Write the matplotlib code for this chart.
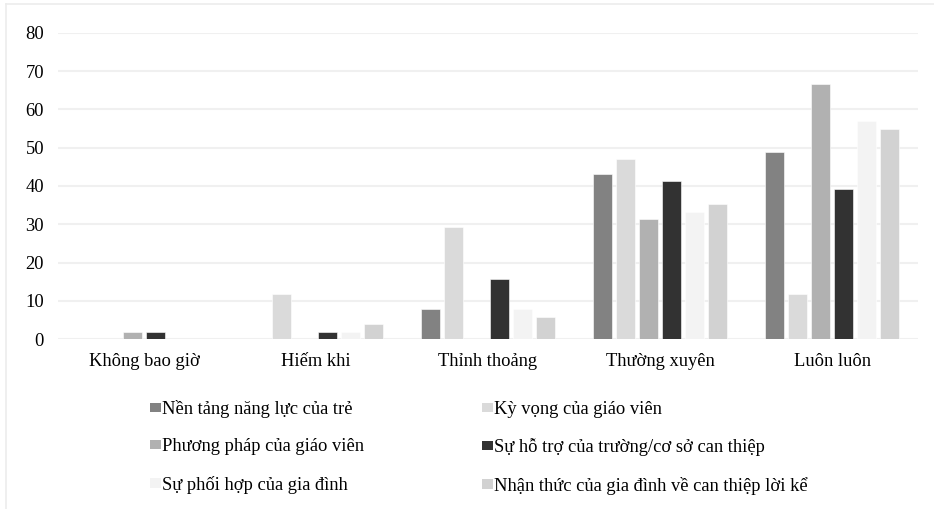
import matplotlib
matplotlib.use("Agg")
import matplotlib.pyplot as plt
from matplotlib.patches import Patch
from matplotlib.lines import Line2D
import numpy as np

plt.rcParams['font.family'] = ['Liberation Serif', 'DejaVu Serif']

categories = ["Không bao giờ", "Hiếm khi", "Thỉnh thoảng", "Thường xuyên", "Luôn luôn"]
series_names = [
    "Nền tảng năng lực của trẻ",
    "Kỳ vọng của giáo viên",
    "Phương pháp của giáo viên",
    "Sự hỗ trợ của trường/cơ sở can thiệp",
    "Sự phối hợp của gia đình",
    "Nhận thức của gia đình về can thiệp lời kể",
]
nen_tang = [0, 0, 7.8, 43.1, 49.0]
ky_vong = [0, 11.8, 29.4, 47.1, 11.8]
phuong_phap = [2.0, 0, 0, 31.4, 66.7]
ho_tro = [2.0, 2.0, 15.7, 41.2, 39.2]
phoi_hop = [0, 2.0, 7.8, 33.3, 56.9]
nhan_thuc = [0, 3.9, 5.9, 35.3, 54.9]
series_values = [nen_tang, ky_vong, phuong_phap, ho_tro, phoi_hop, nhan_thuc]
colors = ["#828282", "#dadada", "#b1b1b1", "#323232", "#f3f3f3", "#d2d2d2"]
y_ticks = [0, 10, 20, 30, 40, 50, 60, 70, 80]

FS = 13.3
W, H = 934, 509
fig = plt.figure(figsize=(W / 100, H / 100), dpi=100)
ax = fig.add_axes([58 / W, 1 - 339.3 / H, 860 / W, (339.3 - 32.7) / H])

x = np.arange(len(categories))
step = 0.1337
width = 0.105
handles = []
for i, (name, vals, col) in enumerate(zip(series_names, series_values, colors)):
    offs = (i - 2.5) * step
    ax.bar(x + offs, vals, width=width, color=col, edgecolor="white", linewidth=0.4, zorder=3)
    handles.append(Patch(facecolor=col, edgecolor="none", label=name))

ax.set_xlim(-0.5, len(categories) - 0.5)
ax.set_ylim(0, 80)
ax.set_yticks(y_ticks)
ax.set_yticklabels([str(t) for t in y_ticks])
ax.set_xticks(x)
ax.set_xticklabels(categories)
ax.tick_params(axis="both", length=0, labelsize=FS, colors="#000000")
ax.tick_params(axis="y", pad=10)
ax.tick_params(axis="x", pad=10)
ax.grid(axis="y", color="#f0f0f0", linewidth=1.5, zorder=0)
for s in ax.spines.values():
    s.set_visible(False)

order = [0, 2, 4, 1, 3, 5]
leg = fig.legend([handles[k] for k in order], [series_names[k] for k in order],
                 ncol=2, loc="upper left", bbox_to_anchor=(150 / W, 1 - 400 / H),
                 frameon=False, fontsize=FS, handlelength=0.6, handleheight=0.4,
                 handletextpad=0.05, labelspacing=1.1, columnspacing=6.4,
                 borderaxespad=0, borderpad=0)

# thin outer frame
fig.add_artist(Line2D([6 / W, 1], [1 - 4 / H, 1 - 4 / H], color="#ececec", linewidth=1.2,
                      transform=fig.transFigure))
fig.add_artist(Line2D([6 / W, 6 / W], [0, 1 - 4 / H], color="#ececec", linewidth=1.2,
                      transform=fig.transFigure))

fig.savefig("out.png", dpi=100, facecolor="white")
